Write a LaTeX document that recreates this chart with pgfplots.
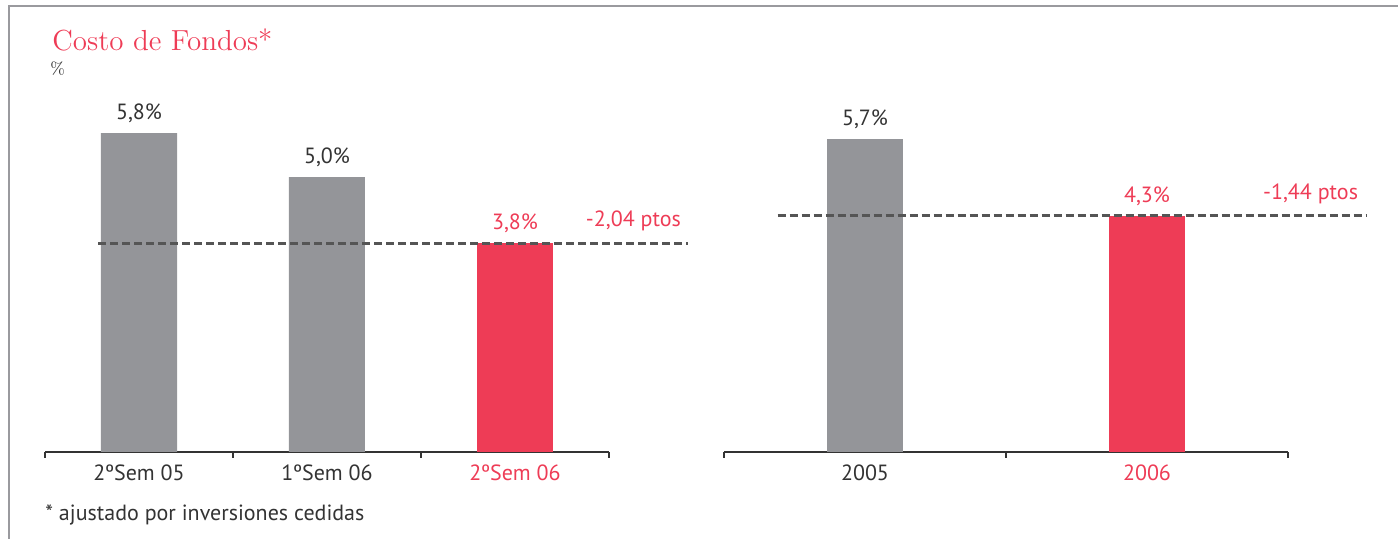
\documentclass[border=0pt]{standalone}
\usepackage{pgfplots}
\pgfplotsset{compat=1.18}
\usepackage{fontspec}
\setsansfont{PT Sans}

\definecolor{bargray}{HTML}{949599}
\definecolor{barred}{HTML}{EE3C56}
\definecolor{txt}{HTML}{333333}
\definecolor{dashc}{HTML}{555555}
\definecolor{framec}{HTML}{9A9A9E}

\newcommand{\lblfont}{\sffamily\fontsize{11}{13}\selectfont}

\pgfplotsset{
  panel/.style={
    scale only axis, width=282pt, height=192.5pt,
    ymin=0, ymax=7, xmin=-0.5,
    axis y line=none, axis x line*=bottom,
    axis line style={txt, line width=1pt},
    major tick length=0pt, minor tick length=3pt, tick align=outside,
    minor tick style={txt, line width=1pt},
    xticklabel style={font=\lblfont, text=txt, yshift=-3pt},
    clip=false,
    /pgf/number format/use comma,
    /pgf/number format/fixed,
    /pgf/number format/fixed zerofill,
    /pgf/number format/precision=1,
    /pgf/number format/assume math mode=true,
  },
  bars/.style={
    ybar, bar width=38pt, bar shift=0pt, draw=none, fill=#1,
    nodes near coords={\pgfmathprintnumber{\pgfplotspointmeta}\%},
    every node near coord/.append style={font=\lblfont, anchor=south, yshift=1.5pt},
  },
  refline/.style={dashc, line width=1.5pt, dash pattern=on 4pt off 2pt, mark=none},
}

\begin{document}
\begin{tikzpicture}
\path[use as bounding box] (0,0) rectangle (699pt,-269.5pt);
\draw[framec, line width=1pt] (4.5pt,-269.5pt) -- (4.5pt,-3.2pt) -- (699pt,-3.2pt);

\node[anchor=base west, inner sep=0pt, text=barred, font=\rmfamily\fontsize{14.5}{16}\selectfont] at (26pt,-25.5pt) {Costo de Fondos*};
\node[anchor=base west, inner sep=0pt, text=txt, font=\rmfamily\fontsize{8.5}{10}\selectfont] at (25pt,-37.5pt) {\%};

% semestres
\begin{axis}[panel, at={(22.5pt,-226pt)}, anchor=south west,
  xmax=2.5, xtick={0,1,2}, minor xtick={-0.5,0.5,1.5,2.5},
  xticklabels={2ºSem 05, 1ºSem 06, \textcolor{barred}{2ºSem 06}}]
\addplot[bars=bargray, every node near coord/.append style={text=txt}] coordinates {(0,5.8) (1,5.0)};
\addplot[bars=barred, every node near coord/.append style={text=barred}] coordinates {(2,3.8)};
\addplot[refline] coordinates {(-0.218,3.8) (2.92,3.8)};
\node[anchor=south, text=barred, font=\lblfont, yshift=2.5pt] at (axis cs:2.63,3.8) {-2,04 ptos};
\end{axis}

% anual
\begin{axis}[panel, at={(362pt,-226pt)}, anchor=south west,
  xmax=1.5, xtick={0,1}, minor xtick={-0.5,0.5,1.5},
  xticklabels={2005, \textcolor{barred}{2006}}]
\addplot[bars=bargray, every node near coord/.append style={text=txt}] coordinates {(0,5.7)};
\addplot[bars=barred, every node near coord/.append style={text=barred}] coordinates {(1,4.3)};
\addplot[refline] coordinates {(-0.31,4.3) (1.777,4.3)};
\node[anchor=south, text=barred, font=\lblfont, yshift=2.5pt] at (axis cs:1.58,4.3) {-1,44 ptos};
\end{axis}

\node[anchor=base west, inner sep=0pt, text=txt, font=\lblfont] at (22.5pt,-260.5pt) {* ajustado por inversiones cedidas};
\end{tikzpicture}
\end{document}
